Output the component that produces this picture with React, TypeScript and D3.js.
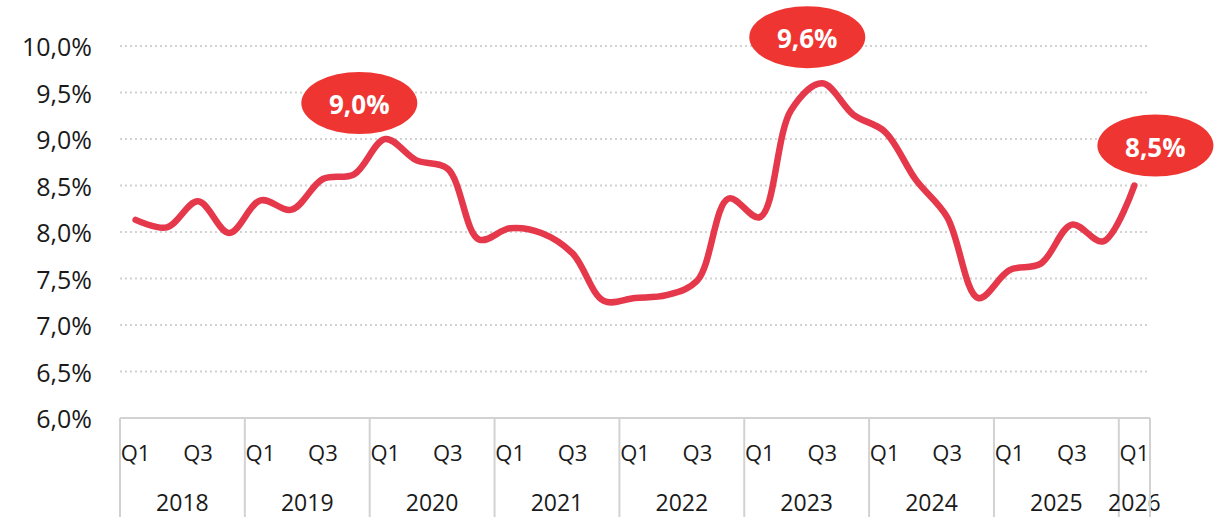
import React from "react";
import * as d3 from "d3";

const WIDTH = 1224;
const HEIGHT = 517;
const MARGIN = { top: 46, right: 74, bottom: 99, left: 120 };

const years = ["2018", "2019", "2020", "2021", "2022", "2023", "2024", "2025", "2026"];
const quarters = ["Q1", "Q2", "Q3", "Q4"];
// quarterly rate in %, 2018 Q1 .. 2026 Q1
const rates = [
  8.13, 8.05, 8.33, 7.99,
  8.34, 8.24, 8.57, 8.62,
  9.0, 8.77, 8.68, 7.92,
  8.04, 7.99, 7.77, 7.26,
  7.29, 7.32, 7.48, 8.36,
  8.16, 9.31, 9.6, 9.26,
  9.08, 8.56, 8.16, 7.29,
  7.59, 7.66, 8.08, 7.9,
  8.5,
];
const yTicks = [6.0, 6.5, 7.0, 7.5, 8.0, 8.5, 9.0, 9.5, 10.0];
const shownQuarters = ["Q1", "Q3"];
const highlighted = [8, 22, 32];

const LINE = "#e5384b";
const BUBBLE = "#ee3532";
const GRID = "#d2d2d2";
const FONT = "'Open Sans', 'Noto Sans', sans-serif";

const fmt = (v: number) => v.toFixed(1).replace(".", ",") + "%";

const periods = rates.map((_, i) => ({
  key: `${years[Math.floor(i / 4)]}-${quarters[i % 4]}`,
  year: years[Math.floor(i / 4)],
  q: quarters[i % 4],
}));

export default function App() {
  const innerW = WIDTH - MARGIN.left - MARGIN.right;
  const innerH = HEIGHT - MARGIN.top - MARGIN.bottom;

  const x = d3
    .scaleBand<string>()
    .domain(periods.map((p) => p.key))
    .range([0, innerW]);
  const y = d3.scaleLinear().domain([6, 10]).range([innerH, 0]);
  const cx = (i: number) => (x(periods[i].key) ?? 0) + x.bandwidth() / 2;

  const line = d3
    .line<number>()
    .x((_, i) => cx(i))
    .y((d) => y(d))
    .curve(d3.curveCatmullRom.alpha(0.5));

  // year group boundaries
  const groups = years.map((yr) => {
    const idx = periods.map((p, i) => (p.year === yr ? i : -1)).filter((i) => i >= 0);
    const x0 = x(periods[idx[0]].key) ?? 0;
    const x1 = (x(periods[idx[idx.length - 1]].key) ?? 0) + x.bandwidth();
    return { yr, x0, x1 };
  });

  // bubble offsets relative to the highlighted point
  const bubbleOffset: Record<number, [number, number]> = {
    8: [-26, -36],
    22: [-15, -46],
    32: [21, -40],
  };

  return (
    <svg
      width={WIDTH}
      height={HEIGHT}
      style={{ position: "absolute", left: 0, top: 0, background: "#fff" }}
      fontFamily={FONT}
    >
      <g transform={`translate(${MARGIN.left},${MARGIN.top})`}>
        {yTicks.map((t) => (
          <g key={t}>
            {t > 6 && (
              <line
                x1={0}
                x2={innerW}
                y1={y(t)}
                y2={y(t)}
                stroke={GRID}
                strokeWidth={2}
                strokeDasharray="2 3"
              />
            )}
            <text
              x={-28}
              y={y(t)}
              textAnchor="end"
              dominantBaseline="central"
              fontSize={25}
              fill="#1a1a1a"
            >
              {fmt(t)}
            </text>
          </g>
        ))}

        {/* category axis */}
        <line x1={0} x2={innerW} y1={innerH} y2={innerH} stroke={GRID} strokeWidth={2} />
        {groups.map((g) => (
          <g key={g.yr}>
            <line x1={g.x0} x2={g.x0} y1={innerH} y2={HEIGHT} stroke={GRID} strokeWidth={2} />
            <text
              x={(g.x0 + g.x1) / 2}
              y={innerH + 84}
              textAnchor="middle"
              dominantBaseline="central"
              fontSize={23}
              fill="#1a1a1a"
            >
              {g.yr}
            </text>
          </g>
        ))}
        <line x1={innerW} x2={innerW} y1={innerH} y2={HEIGHT} stroke={GRID} strokeWidth={2} />
        {periods.map((p, i) =>
          shownQuarters.includes(p.q) ? (
            <text
              key={p.key}
              x={cx(i)}
              y={innerH + 34}
              textAnchor="middle"
              dominantBaseline="central"
              fontSize={22}
              fill="#1a1a1a"
            >
              {p.q}
            </text>
          ) : null
        )}

        <path
          d={line(rates) ?? ""}
          fill="none"
          stroke={LINE}
          strokeWidth={6.5}
          strokeLinecap="round"
          strokeLinejoin="round"
        />

        {highlighted.map((i) => {
          const [dx, dy] = bubbleOffset[i];
          const bx = cx(i) + dx;
          const by = y(rates[i]) + dy;
          return (
            <g key={i}>
              <ellipse cx={bx} cy={by} rx={58} ry={31} fill={BUBBLE} />
              <text
                x={bx}
                y={by + 1}
                textAnchor="middle"
                dominantBaseline="central"
                fontSize={26}
                fontWeight="bold"
                fill="#fff"
              >
                {fmt(rates[i])}
              </text>
            </g>
          );
        })}
      </g>
    </svg>
  );
}
